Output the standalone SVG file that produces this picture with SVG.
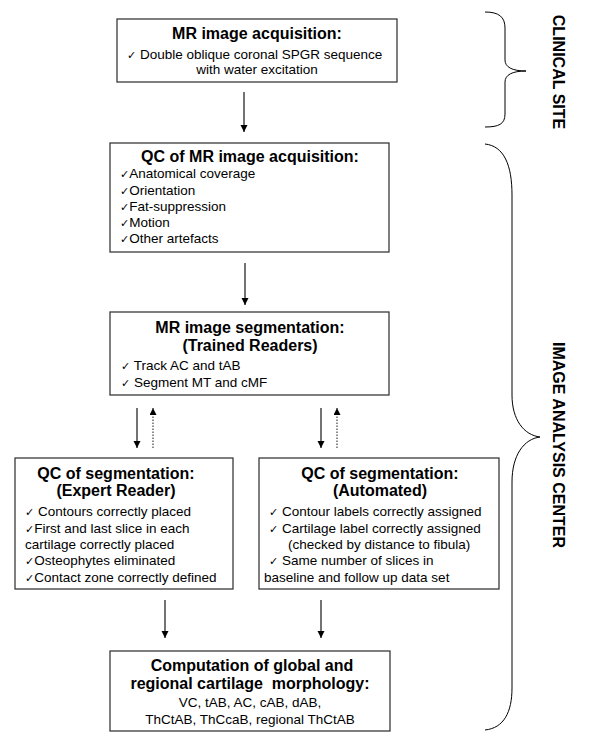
<svg xmlns="http://www.w3.org/2000/svg" width="600" height="756" viewBox="0 0 600 756">
<style>
.box{fill:#fff;stroke:#3a3a3a;stroke-width:1.3}
.t{font-family:"Liberation Sans",Arial,sans-serif;font-size:16px;font-weight:bold;fill:#000}
.b{font-family:"Liberation Sans",Arial,sans-serif;font-size:13.5px;fill:#000}
.c{text-anchor:middle}
.ck{font-family:"DejaVu Sans",sans-serif;font-size:11px}
.ln{stroke:#000;stroke-width:1.1;fill:none}
.dot{stroke:#000;stroke-width:0.9;stroke-dasharray:1.5,1.5;fill:none}
.br{stroke:#000;stroke-width:1;fill:none}
.side{font-family:"Liberation Sans",Arial,sans-serif;font-size:16px;font-weight:bold;text-anchor:middle}
</style>
<defs>
<marker id="ah" markerUnits="userSpaceOnUse" markerWidth="8" markerHeight="8" refX="7" refY="3.5" orient="auto">
<path d="M0,0 L7,3.5 L0,7 z" fill="#000"/>
</marker>
</defs>
<rect width="600" height="756" fill="#fff"/>

<g id="connectors">
<line class="ln" x1="244" y1="92" x2="244" y2="132" marker-end="url(#ah)"/>
<line class="ln" x1="245" y1="263" x2="245" y2="305" marker-end="url(#ah)"/>
<line class="ln" x1="137" y1="408" x2="137" y2="448" marker-end="url(#ah)"/>
<line class="dot" x1="153" y1="448" x2="153" y2="408" marker-end="url(#ah)"/>
<line class="ln" x1="321" y1="408" x2="321" y2="448" marker-end="url(#ah)"/>
<line class="dot" x1="337" y1="448" x2="337" y2="408" marker-end="url(#ah)"/>
<line class="ln" x1="165" y1="600" x2="165" y2="638" marker-end="url(#ah)"/>
<line class="ln" x1="321" y1="600" x2="321" y2="638" marker-end="url(#ah)"/>
</g>

<g id="acquisition">
<rect class="box" x="117" y="19" width="280" height="63"/>
<text class="t c" x="257" y="39">MR image acquisition:</text>
<text class="b" x="127" y="59"><tspan class="ck">✓</tspan> Double oblique coronal SPGR sequence</text>
<text class="b c" x="257" y="74">with water excitation</text>
</g>

<g id="qc-acquisition">
<rect class="box" x="110" y="143" width="279" height="109"/>
<text class="t c" x="250" y="162">QC of MR image acquisition:</text>
<text class="b" x="120" y="178"><tspan class="ck">✓</tspan>Anatomical coverage</text>
<text class="b" x="120" y="194.5"><tspan class="ck">✓</tspan>Orientation</text>
<text class="b" x="120" y="211"><tspan class="ck">✓</tspan>Fat-suppression</text>
<text class="b" x="120" y="227"><tspan class="ck">✓</tspan>Motion</text>
<text class="b" x="120" y="243"><tspan class="ck">✓</tspan>Other artefacts</text>
</g>

<g id="segmentation">
<rect class="box" x="110" y="312" width="279" height="83"/>
<text class="t c" x="250" y="333">MR image segmentation:</text>
<text class="t c" x="250" y="351">(Trained Readers)</text>
<text class="b" x="121" y="370"><tspan class="ck">✓</tspan> Track AC and tAB</text>
<text class="b" x="121" y="387"><tspan class="ck">✓</tspan> Segment MT and cMF</text>
</g>

<g id="qc-expert">
<rect class="box" x="15" y="458" width="218" height="131"/>
<text class="t c" x="116" y="479">QC of segmentation:</text>
<text class="t c" x="116" y="496">(Expert Reader)</text>
<text class="b" x="25" y="516"><tspan class="ck">✓</tspan> Contours correctly placed</text>
<text class="b" x="25" y="533"><tspan class="ck">✓</tspan>First and last slice in each</text>
<text class="b" x="25" y="549">cartilage correctly placed</text>
<text class="b" x="25" y="565"><tspan class="ck">✓</tspan>Osteophytes eliminated</text>
<text class="b" x="25" y="582"><tspan class="ck">✓</tspan>Contact zone correctly defined</text>
</g>

<g id="qc-automated">
<rect class="box" x="259" y="458" width="240" height="131"/>
<text class="t c" x="380" y="479">QC of segmentation:</text>
<text class="t c" x="380" y="496">(Automated)</text>
<text class="b" x="269" y="516"><tspan class="ck">✓</tspan> Contour labels correctly assigned</text>
<text class="b" x="269" y="533"><tspan class="ck">✓</tspan> Cartilage label correctly assigned</text>
<text class="b" x="288" y="549">(checked by distance to fibula)</text>
<text class="b" x="269" y="565"><tspan class="ck">✓</tspan> Same number of slices in</text>
<text class="b" x="264" y="582">baseline and follow up data set</text>
</g>

<g id="computation">
<rect class="box" x="110" y="651" width="280" height="80"/>
<text class="t c" x="252" y="671">Computation of global and</text>
<text class="t c" x="250" y="689" style="white-space:pre">regional cartilage  morphology:</text>
<text class="b c" x="250" y="707">VC, tAB, AC, cAB, dAB,</text>
<text class="b c" x="250" y="724">ThCtAB, ThCcaB, regional ThCtAB</text>
</g>

<g id="clinical-site">
<path class="br" d="M485,12 C499,12 505,17 505,28 L505,60 C505,67 512,71 526,71 C512,71 505,75 505,82 L505,114 C505,124 499,127 485,127"/>
<text class="side" transform="translate(553,72) rotate(90)">CLINICAL SITE</text>
</g>

<g id="image-analysis-center">
<path class="br" d="M485,144 C504,146 512,165 512,195 L512,395 C512,420 524,435 540,437 C524,439 512,455 512,482 L512,688 C512,712 504,728 485,730"/>
<text class="side" transform="translate(553,445) rotate(90)">IMAGE ANALYSIS CENTER</text>
</g>
</svg>
